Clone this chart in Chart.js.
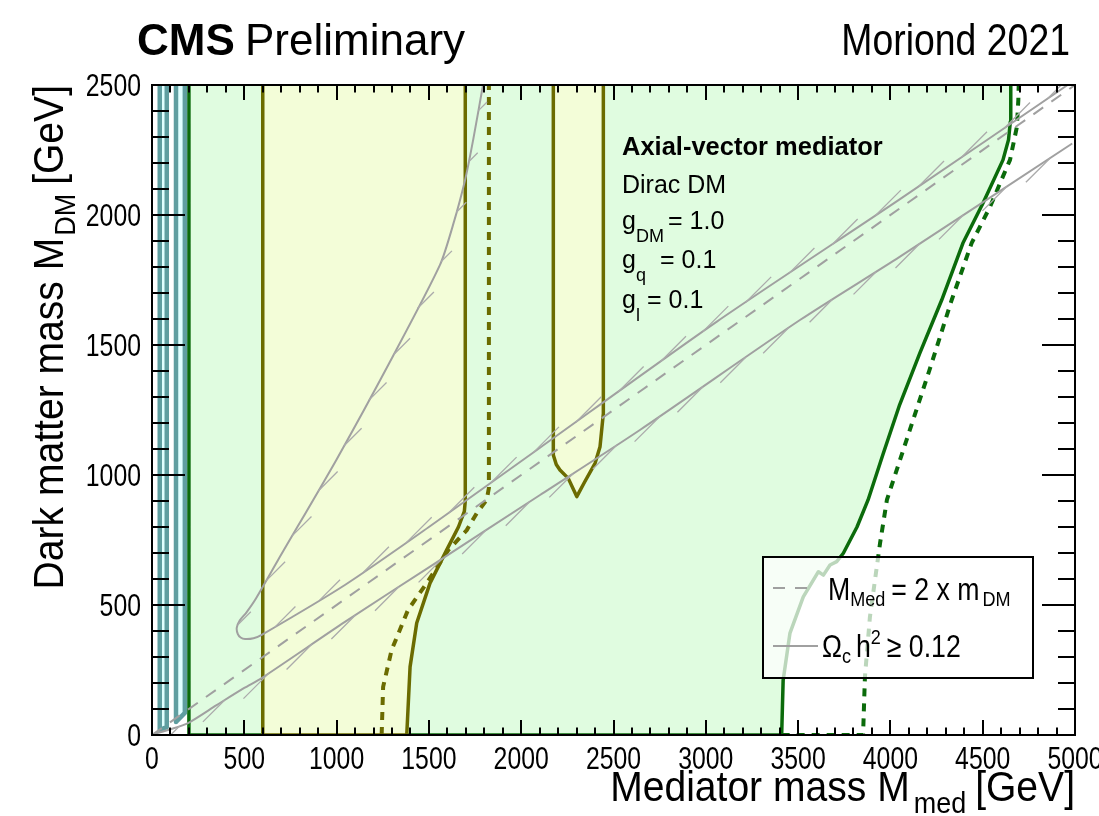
<!DOCTYPE html>
<html>
<head>
<meta charset="utf-8">
<title>CMS Preliminary - Axial-vector mediator</title>
<script src="https://cdn.jsdelivr.net/npm/chart.js@4.4.1/dist/chart.umd.min.js"></script>
<style>
  html, body { margin: 0; padding: 0; background: #fff; }
  #wrap { width: 1099px; height: 816px; }
</style>
</head>
<body>
<div id="wrap"><canvas id="chart" width="1099" height="816"></canvas></div>
<script>
// Axis ticks (GeV)
const xTicks = [0, 500, 1000, 1500, 2000, 2500, 3000, 3500, 4000, 4500, 5000];
const yTicks = [0, 500, 1000, 1500, 2000, 2500];

// Low mass bands (teal)
const band1X = [42, 42, 80, 80];
const band1Y = [2500, 20, 30, 2500];
const band2X = [130, 130, 178, 178];
const band2Y = [2500, 50, 85, 2500];

// Green exclusion, observed / expected
const greenObsX = [200, 200, 3411, 3419, 3456, 3528, 3610, 3637, 3673, 3709, 3745, 3819, 3879, 3960, 4050, 4160, 4278, 4393, 4502, 4610, 4640, 4650, 4652];
const greenObsY = [2500, 0, 0, 211, 392, 531, 628, 615, 654, 667, 699, 800, 904, 1080, 1270, 1470, 1673, 1892, 2046, 2212, 2290, 2360, 2500];
const greenExpX = [3411, 3852, 3862, 3889, 3944, 3981, 4090, 4210, 4332, 4440, 4540, 4648, 4685, 4693, 4695];
const greenExpY = [0, 0, 223, 454, 738, 904, 1140, 1400, 1673, 1892, 2032, 2212, 2338, 2442, 2500];

// Olive exclusion, observed / expected
const oliveObsX = [600, 600, 1380, 1398, 1434, 1506, 1596, 1660, 1692, 1697, 1697];
const oliveObsY = [2500, 0, 0, 262, 431, 584, 711, 800, 860, 900, 2500];
const oliveExpX = [1244, 1252, 1298, 1387, 1488, 1605, 1705, 1759, 1813, 1825, 1825];
const oliveExpY = [0, 185, 327, 481, 584, 711, 788, 853, 904, 950, 2500];

// Second olive island
const islandX = [2174, 2174, 2190, 2210, 2255, 2301, 2345, 2400, 2427, 2445, 2445];
const islandY = [2500, 1077, 1040, 1019, 987, 917, 975, 1045, 1109, 1237, 2500];

// M_med = 2 m_DM
const diagX = [0, 5000];
const diagY = [0, 2500];

// Relic density contours
const relicUpX = [1793, 1740, 1696, 1630, 1560, 1300, 1000, 683, 558, 510, 475, 459, 465, 480, 504, 550, 594, 1045, 1500, 2100, 3060, 4050, 4960];
const relicUpY = [2500, 2290, 2135, 1960, 1808, 1450, 1060, 673, 519, 470, 440, 412, 388, 375, 369, 372, 385, 577, 800, 1104, 1590, 2060, 2500];
const relicLoX = [15, 100, 195, 350, 500, 594, 1045, 1500, 2102, 2643, 3510, 4052, 4985];
const relicLoY = [5, 22, 46, 115, 181, 219, 435, 645, 923, 1173, 1596, 1840, 2275];

const FONT = '"Liberation Sans", Arial, Helvetica, sans-serif';
const GREEN = '#0b6b0b';
const OLIVE = '#6b6b00';
const TEAL = '#5f9ea0';
const GREY = '#a0a0a0';

function pts(xs, ys) {
    return xs.map((x, i) => ({ x: x, y: ys[i] }));
}

// text with horizontal squeeze (ROOT helvetica looks narrow here)
function text(ctx, str, x, y, font, sx, align) {
    ctx.save();
    ctx.font = font;
    ctx.translate(x, y);
    ctx.scale(sx, 1);
    ctx.textAlign = align || 'left';
    ctx.fillText(str, 0, 0);
    ctx.restore();
}

function drawRich(ctx, x, y, parts, align, sx) {
    sx = sx || 1;
    let total = 0;
    parts.forEach(p => {
        ctx.font = `${p.bold ? 'bold ' : ''}${p.size}px ${FONT}`;
        p.w = ctx.measureText(p.t).width * sx;
        total += p.w + (p.gap || 0);
    });
    let cx = align === 'right' ? x - total : x;
    parts.forEach(p => {
        text(ctx, p.t, cx, y + (p.dy || 0), `${p.bold ? 'bold ' : ''}${p.size}px ${FONT}`, sx);
        cx += p.w + (p.gap || 0);
    });
}

function drawHatches(ctx, points, dirSign) {
    const ang = 45 * Math.PI / 180;
    const u = { x: Math.cos(ang) * dirSign, y: -Math.sin(ang) * dirSign };
    const spacing = 52, w = 7, maxLen = 36;
    let acc = spacing / 2;
    ctx.beginPath();
    for (let i = 0; i < points.length - 1; i++) {
        const a = points[i], b = points[i + 1];
        const dx = b.x - a.x, dy = b.y - a.y, len = Math.hypot(dx, dy);
        if (!len) continue;
        const dxn = dx / len, dyn = dy / len;
        const sinT = Math.abs(dxn * u.y - dyn * u.x);
        const L = Math.min(maxLen, w / Math.max(sinT, 0.01));
        let t = acc;
        while (t < len) {
            const px = a.x + dxn * t, py = a.y + dyn * t;
            ctx.moveTo(px, py);
            ctx.lineTo(px + u.x * L, py + u.y * L);
            t += spacing;
        }
        acc = t - len;
    }
    ctx.stroke();
}

const rootStyle = {
    id: 'rootStyle',
    beforeDraw(chart) {
        const ctx = chart.ctx;
        ctx.save();
        ctx.fillStyle = '#fff';
        ctx.fillRect(0, 0, chart.width, chart.height);
        ctx.restore();
    },
    afterDatasetsDraw(chart) {
        const ctx = chart.ctx;
        const area = chart.chartArea;
        const xs = chart.scales.x, ys = chart.scales.y;

        // Hatches along relic contours
        ctx.save();
        ctx.beginPath();
        ctx.rect(area.left, area.top, area.right - area.left, area.bottom - area.top);
        ctx.clip();
        ctx.strokeStyle = '#ababab';
        ctx.lineWidth = 1.3;
        chart.data.datasets.forEach((ds, i) => {
            if (!ds.hatch) return;
            const meta = chart.getDatasetMeta(i);
            drawHatches(ctx, meta.data.map(p => ({ x: p.x, y: p.y })), ds.hatch);
        });
        ctx.restore();

        // Frame and ticks
        ctx.save();
        ctx.strokeStyle = '#000';
        ctx.lineWidth = 2;
        ctx.beginPath();
        for (let v = 0; v <= 5000; v += 100) {
            const px = Math.round(xs.getPixelForValue(v));
            const len = v % 500 === 0 ? 15 : 7.5;
            ctx.moveTo(px, area.bottom); ctx.lineTo(px, area.bottom - len);
            ctx.moveTo(px, area.top); ctx.lineTo(px, area.top + len);
        }
        for (let v = 0; v <= 2500; v += 100) {
            const py = Math.round(ys.getPixelForValue(v));
            const len = v % 500 === 0 ? 33 : 17;
            ctx.moveTo(area.left, py); ctx.lineTo(area.left + len, py);
            ctx.moveTo(area.right, py); ctx.lineTo(area.right - len, py);
        }
        ctx.stroke();
        ctx.strokeRect(area.left, area.top, area.right - area.left, area.bottom - area.top);

        // Tick labels
        ctx.fillStyle = '#000';
        ctx.textBaseline = 'alphabetic';
        const tickFont = `31px ${FONT}`;
        xTicks.forEach(v => text(ctx, String(v), xs.getPixelForValue(v), 769, tickFont, 0.8, 'center'));
        yTicks.forEach(v => text(ctx, String(v), 141, ys.getPixelForValue(v) + 11, tickFont, 0.8, 'right'));

        // Legend box
        ctx.fillStyle = 'rgba(255,255,255,0.72)';
        ctx.fillRect(763, 557, 270, 121);
        ctx.strokeRect(763, 557, 270, 121);
        ctx.strokeStyle = GREY;
        ctx.lineWidth = 2;
        ctx.setLineDash([12, 10]);
        ctx.beginPath(); ctx.moveTo(773, 588); ctx.lineTo(812, 588); ctx.stroke();
        ctx.setLineDash([]);
        ctx.beginPath(); ctx.moveTo(773, 646); ctx.lineTo(818, 646); ctx.stroke();

        ctx.fillStyle = '#000';
        drawRich(ctx, 828, 600, [
            { t: 'M', size: 31 },
            { t: 'Med', size: 21, dy: 6, gap: 6 },
            { t: '= 2 x m', size: 31, gap: 3 },
            { t: 'DM', size: 21, dy: 6 }
        ], 'left', 0.86);
        drawRich(ctx, 822, 657, [
            { t: '\u03A9', size: 31 },
            { t: 'c', size: 21, dy: 6, gap: 5 },
            { t: 'h', size: 31 },
            { t: '2', size: 21, dy: -13, gap: 6 },
            { t: '\u2265 0.12', size: 31 }
        ], 'left', 0.86);

        // Model annotation
        text(ctx, 'Axial-vector mediator', 622, 155, `bold 25px ${FONT}`, 1.02);
        text(ctx, 'Dirac DM', 622, 193, `25px ${FONT}`, 1);
        const gLines = [
            { sub: 'DM', val: '= 1.0', y: 229, vx: 668 },
            { sub: 'q', val: '= 0.1', y: 268, vx: 660 },
            { sub: 'l', val: '= 0.1', y: 308, vx: 647 }
        ];
        gLines.forEach(g => {
            text(ctx, 'g', 622, g.y, `25px ${FONT}`, 1);
            text(ctx, g.val, g.vx, g.y, `25px ${FONT}`, 1);
            text(ctx, g.sub, 636, g.y + 13, `18px ${FONT}`, 1);
        });

        // Header
        text(ctx, 'CMS', 137, 55, `bold 44px ${FONT}`, 1);
        text(ctx, 'Preliminary', 245, 55, `44px ${FONT}`, 1);
        text(ctx, 'Moriond 2021', 1070, 55, `44px ${FONT}`, 0.85, 'right');

        // Axis titles
        drawRich(ctx, 1075, 801, [
            { t: 'Mediator mass M', size: 42, gap: 4 },
            { t: 'med', size: 29, dy: 12, gap: 9 },
            { t: '[GeV]', size: 42 }
        ], 'right', 0.93);
        ctx.translate(63, 85);
        ctx.rotate(-Math.PI / 2);
        drawRich(ctx, 0, 0, [
            { t: 'Dark matter mass M', size: 42, gap: 2 },
            { t: 'DM', size: 29, dy: 12, gap: 9 },
            { t: '[GeV]', size: 42 }
        ], 'right', 0.93);
        ctx.restore();
    }
};

function line(label, xs, ys, opts) {
    return Object.assign({
        label: label,
        data: pts(xs, ys),
        borderWidth: 3,
        pointRadius: 0,
        fill: false,
        tension: 0,
        borderJoinStyle: 'round'
    }, opts);
}

const datasets = [
    line('green observed', greenObsX, greenObsY, { order: 20, fill: 'shape', backgroundColor: '#e0fce0', borderColor: GREEN, borderWidth: 3.5 }),
    line('olive observed', oliveObsX, oliveObsY, { order: 19, fill: 'shape', backgroundColor: '#f3fdd8', borderColor: OLIVE, borderWidth: 3.5 }),
    line('olive island', islandX, islandY, { order: 18, fill: 'shape', backgroundColor: '#f3fdd8', borderColor: OLIVE, borderWidth: 3.5 }),
    line('band 1', band1X, band1Y, { order: 17, fill: 'shape', backgroundColor: '#e0ffff', borderColor: TEAL, borderWidth: 4.5 }),
    line('band 2', band2X, band2Y, { order: 16, fill: 'shape', backgroundColor: '#e0ffff', borderColor: TEAL, borderWidth: 4.5 }),
    line('green expected', greenExpX, greenExpY, { order: 15, borderColor: GREEN, borderWidth: 4, borderDash: [8, 7] }),
    line('olive expected', oliveExpX, oliveExpY, { order: 14, borderColor: OLIVE, borderWidth: 4, borderDash: [8, 7] }),
    line('M_med = 2 m_DM', diagX, diagY, { order: 13, borderColor: GREY, borderWidth: 2, borderDash: [12, 10] }),
    line('relic upper', relicUpX, relicUpY, { order: 12, borderColor: GREY, borderWidth: 2, tension: 0.25, hatch: 1 }),
    line('relic lower', relicLoX, relicLoY, { order: 11, borderColor: GREY, borderWidth: 2, tension: 0.25, hatch: -1 })
];

new Chart(document.getElementById('chart'), {
    type: 'line',
    data: { datasets: datasets },
    options: {
        responsive: false,
        animation: false,
        devicePixelRatio: 1,
        layout: { padding: { left: 152, right: 24, top: 85, bottom: 81 } },
        scales: {
            x: { type: 'linear', min: 0, max: 5000, display: false },
            y: { type: 'linear', min: 0, max: 2500, display: false }
        },
        plugins: {
            legend: { display: false },
            tooltip: { enabled: false }
        }
    },
    plugins: [rootStyle]
});
</script>
</body>
</html>
